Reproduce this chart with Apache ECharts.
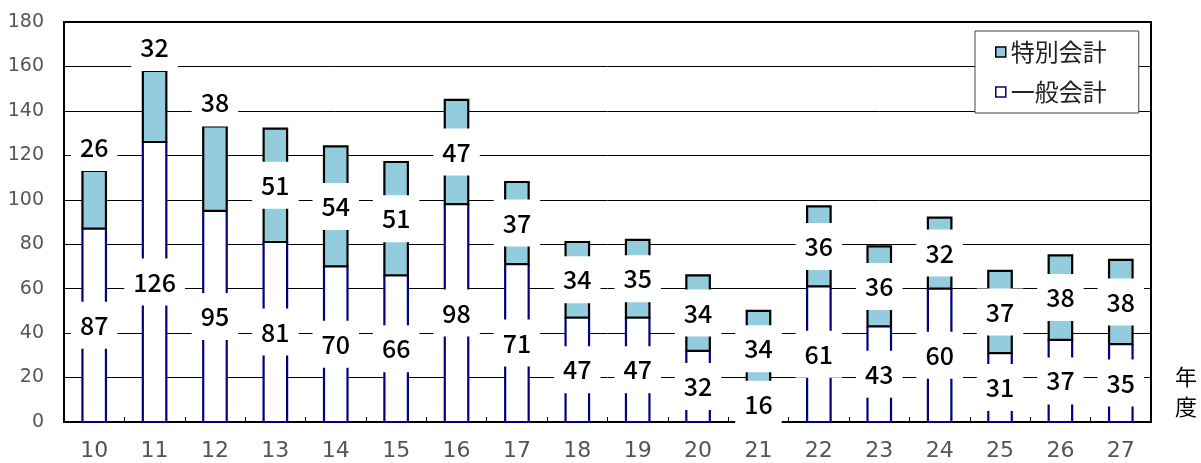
<!DOCTYPE html>
<html>
<head>
<meta charset="utf-8">
<script src="https://cdn.jsdelivr.net/npm/echarts@6/dist/echarts.min.js"></script>
<style>
  html, body { margin: 0; padding: 0; background: #fff; }
  #chart { width: 1201px; height: 463px; }
</style>
</head>
<body>
<div id="chart"></div>
<script>
// 年度別の会計別件数
const years = ['10', '11', '12', '13', '14', '15', '16', '17', '18', '19', '20', '21', '22', '23', '24', '25', '26', '27'];
const generalAccount = [87, 126, 95, 81, 70, 66, 98, 71, 47, 47, 32, 16, 61, 43, 60, 31, 37, 35];
const specialAccount = [26, 32, 38, 51, 54, 51, 47, 37, 34, 35, 34, 34, 36, 36, 32, 37, 38, 38];
const seriesNames = ['特別会計', '一般会計'];

// 最初の3年度は特別会計のラベルを棒の上に置く
const labelAboveCount = 3;

const FONT = '"Noto Sans CJK JP", "Noto Sans", sans-serif';
const AXIS_FONT = '"DejaVu Sans", sans-serif';
const SPECIAL_FILL = '#93CDDD';
const GENERAL_EDGE = '#000080';
const BAR_W = 23.5;
const EDGE_W = 2.2;

function valueText(x, y, v, vAlign) {
  return {
    type: 'text',
    x: x, y: y,
    z2: 100,
    style: {
      text: String(v),
      font: '500 25px ' + FONT,
      fill: '#000',
      align: 'center',
      verticalAlign: vAlign || 'middle',
      backgroundColor: '#fff',
      padding: [11, 9, 11, 9]
    }
  };
}

// 一般会計: 白い棒、左右と底に紺の枠線
function renderGeneral(params, api) {
  const i = api.value(0);
  const v = api.value(1);
  const base = api.coord([i, 0]);
  const top = api.coord([i, v]);
  const cx = base[0], y0 = base[1], y1 = top[1];
  const l = cx - BAR_W / 2, r = cx + BAR_W / 2;
  return {
    type: 'group',
    children: [
      { type: 'rect', z2: 1, shape: { x: l, y: y1, width: BAR_W, height: y0 - y1 }, style: { fill: '#fff' } },
      { type: 'polyline', z2: 2, shape: { points: [[l, y1], [l, y0], [r, y0], [r, y1]] },
        style: { stroke: GENERAL_EDGE, lineWidth: EDGE_W, fill: null } },
      valueText(cx, (y0 + y1) / 2, v)
    ]
  };
}

// 特別会計: 一般会計の上に積む水色の棒、黒枠
function renderSpecial(params, api) {
  const i = api.value(0);
  const total = api.value(1);
  const under = api.value(2);
  const v = api.value(3);
  const bottom = api.coord([i, under]);
  const top = api.coord([i, total]);
  const cx = bottom[0], y0 = bottom[1], y1 = top[1];
  const l = cx - BAR_W / 2;
  const above = i < labelAboveCount;
  return {
    type: 'group',
    children: [
      { type: 'rect', z2: 3, shape: { x: l, y: y1, width: BAR_W, height: y0 - y1 },
        style: { fill: SPECIAL_FILL, stroke: '#000', lineWidth: EDGE_W } },
      above ? valueText(cx, y1, v, 'bottom') : valueText(cx, (y0 + y1) / 2, v)
    ]
  };
}

const generalData = generalAccount.map((v, i) => [i, v]);
const specialData = specialAccount.map((v, i) => [i, generalAccount[i] + v, generalAccount[i], v]);

const chart = echarts.init(document.getElementById('chart'), null, { renderer: 'canvas' });

chart.setOption({
  animation: false,
  backgroundColor: '#fff',
  grid: {
    left: 64, right: 50, top: 22, bottom: 41,
    show: true, borderColor: '#000', borderWidth: 2,
    backgroundColor: 'transparent'
  },
  legend: {
    orient: 'vertical',
    left: 975, top: 31,
    backgroundColor: '#fff',
    borderColor: '#444',
    borderWidth: 1,
    padding: [9, 32, 9, 20],
    itemGap: 16,
    itemWidth: 10,
    itemHeight: 10,
    icon: 'rect',
    textStyle: { fontFamily: FONT, fontSize: 24, color: '#222' },
    data: [
      { name: seriesNames[0], itemStyle: { color: SPECIAL_FILL, borderColor: '#000', borderWidth: 1.5 } },
      { name: seriesNames[1], itemStyle: { color: '#fff', borderColor: GENERAL_EDGE, borderWidth: 1.5 } }
    ]
  },
  xAxis: {
    type: 'category',
    data: years,
    boundaryGap: true,
    axisLine: { lineStyle: { color: '#000', width: 2 } },
    axisTick: { show: true, inside: true, length: 5, lineStyle: { color: '#000', width: 1 } },
    axisLabel: { fontFamily: AXIS_FONT, fontSize: 22, color: '#555', margin: 18 },
    splitLine: { show: false }
  },
  yAxis: {
    type: 'value',
    min: 0, max: 180, interval: 20,
    axisLine: { show: true, lineStyle: { color: '#000', width: 2 } },
    axisTick: { show: false },
    axisLabel: { fontFamily: AXIS_FONT, fontSize: 19, color: '#555', margin: 20 },
    splitLine: { show: true, lineStyle: { color: '#000', width: 1 } }
  },
  graphic: [{
    type: 'text',
    left: 1175, top: 362,
    style: {
      text: '年\n度',
      font: '22px ' + FONT,
      fill: '#000',
      lineHeight: 30,
      textAlign: 'left'
    }
  }],
  series: [
    {
      name: seriesNames[1],
      type: 'custom',
      renderItem: renderGeneral,
      encode: { x: 0, y: 1 },
      itemStyle: { color: '#fff', borderColor: GENERAL_EDGE },
      data: generalData,
      z: 2
    },
    {
      name: seriesNames[0],
      type: 'custom',
      renderItem: renderSpecial,
      encode: { x: 0, y: 1 },
      itemStyle: { color: SPECIAL_FILL, borderColor: '#000' },
      data: specialData,
      z: 2
    }
  ]
});
</script>
</body>
</html>
